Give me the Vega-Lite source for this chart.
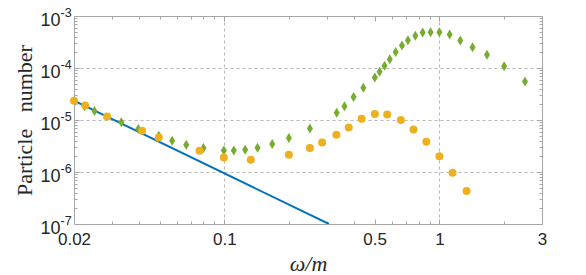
{
  "$schema": "https://vega.github.io/schema/vega-lite/v6.json",
  "width": 468,
  "height": 208,
  "autosize": "none",
  "padding": {"left": 74, "top": 16, "right": 44, "bottom": 51},
  "datasets": {
    "blue": [
      {"w": 0.02, "n": 2.35e-5},
      {"w": 0.3066, "n": 1e-7}
    ],
    "orange": [
      {"w": 0.02, "n": 2.35e-5},
      {"w": 0.02255, "n": 1.89e-5},
      {"w": 0.0285, "n": 1.17e-5},
      {"w": 0.0415, "n": 6.2e-6},
      {"w": 0.0496, "n": 4.6e-6},
      {"w": 0.0767, "n": 2.57e-6},
      {"w": 0.0995, "n": 1.9e-6},
      {"w": 0.1328, "n": 1.72e-6},
      {"w": 0.1996, "n": 2.14e-6},
      {"w": 0.25, "n": 2.9e-6},
      {"w": 0.285, "n": 3.7e-6},
      {"w": 0.332, "n": 5.2e-6},
      {"w": 0.379, "n": 7.2e-6},
      {"w": 0.435, "n": 1.06e-5},
      {"w": 0.501, "n": 1.3e-5},
      {"w": 0.572, "n": 1.27e-5},
      {"w": 0.662, "n": 1.0e-5},
      {"w": 0.758, "n": 6.6e-6},
      {"w": 0.87, "n": 3.8e-6},
      {"w": 1.0, "n": 2.0e-6},
      {"w": 1.152, "n": 9.7e-7},
      {"w": 1.338, "n": 4.3e-7}
    ],
    "green": [
      {"w": 0.02238, "n": 1.83e-5},
      {"w": 0.0249, "n": 1.49e-5},
      {"w": 0.0332, "n": 9.1e-6},
      {"w": 0.0398, "n": 6.7e-6},
      {"w": 0.0496, "n": 5.0e-6},
      {"w": 0.0572, "n": 4.0e-6},
      {"w": 0.0665, "n": 3.34e-6},
      {"w": 0.08, "n": 2.88e-6},
      {"w": 0.0995, "n": 2.6e-6},
      {"w": 0.1107, "n": 2.6e-6},
      {"w": 0.125, "n": 2.68e-6},
      {"w": 0.1427, "n": 2.93e-6},
      {"w": 0.167, "n": 3.44e-6},
      {"w": 0.1996, "n": 4.5e-6},
      {"w": 0.25, "n": 6.9e-6},
      {"w": 0.333, "n": 1.38e-5},
      {"w": 0.362, "n": 1.83e-5},
      {"w": 0.399, "n": 2.77e-5},
      {"w": 0.443, "n": 4.19e-5},
      {"w": 0.501, "n": 6.6e-5},
      {"w": 0.527, "n": 8.5e-5},
      {"w": 0.556, "n": 1.11e-4},
      {"w": 0.588, "n": 1.47e-4},
      {"w": 0.626, "n": 2.04e-4},
      {"w": 0.67, "n": 2.7e-4},
      {"w": 0.714, "n": 3.42e-4},
      {"w": 0.773, "n": 4.15e-4},
      {"w": 0.836, "n": 4.81e-4},
      {"w": 0.91, "n": 4.87e-4},
      {"w": 1.0, "n": 4.87e-4},
      {"w": 1.116, "n": 4.4e-4},
      {"w": 1.25, "n": 3.37e-4},
      {"w": 1.426, "n": 2.5e-4},
      {"w": 1.664, "n": 1.79e-4},
      {"w": 2.0, "n": 1.08e-4},
      {"w": 2.5, "n": 5.47e-5}
    ]
  },
  "layer": [
    {
      "data": {"name": "blue"},
      "mark": {"type": "line", "color": "#0072BD", "strokeWidth": 2, "clip": true},
      "encoding": {
        "x": {
          "field": "w", "type": "quantitative",
          "scale": {"type": "log", "domain": [0.02, 3], "nice": false},
          "axis": {
            "orient": "bottom",
            "values": [0.02, 0.03, 0.04, 0.05, 0.06, 0.07, 0.08, 0.09, 0.1, 0.2, 0.3, 0.4, 0.5, 0.6, 0.7, 0.8, 0.9, 1, 2, 3],
            "labelExpr": "indexof([0.02, 0.1, 0.5, 1, 3], datum.value) >= 0 ? toString(datum.value) : ''",
            "labelOverlap": false,
            "labelFlush": false,
            "labelFontSize": 17,
            "labelPadding": 12,
            "tickSize": {"condition": {"test": "indexof([0.02, 0.1, 0.5, 1, 3], datum.value) >= 0", "value": -5}, "value": -3},
            "grid": true,
            "gridOpacity": {"condition": {"test": "datum.value == 0.1 || datum.value == 1", "value": 1}, "value": 0},
            "title": "ω/m",
            "titleFont": "Liberation Serif",
            "titleFontStyle": "italic",
            "titleFontWeight": "normal",
            "titleFontSize": 22,
            "titlePadding": 4
          }
        },
        "y": {
          "field": "n", "type": "quantitative",
          "scale": {"type": "log", "domain": [1e-7, 1e-3], "nice": false},
          "axis": {
            "orient": "left",
            "values": [1e-7, 2e-7, 3e-7, 4e-7, 5e-7, 6e-7, 7e-7, 8e-7, 9e-7, 1e-6, 2e-6, 3e-6, 4e-6, 5e-6, 6e-6, 7e-6, 8e-6, 9e-6, 1e-5, 2e-5, 3e-5, 4e-5, 5e-5, 6e-5, 7e-5, 8e-5, 9e-5, 1e-4, 2e-4, 3e-4, 4e-4, 5e-4, 6e-4, 7e-4, 8e-4, 9e-4, 1e-3],
            "labelExpr": "indexof([1e-7, 1e-6, 1e-5, 1e-4, 1e-3], datum.value) >= 0 ? '10' : ''",
            "labelOverlap": false,
            "labelFlush": false,
            "labelFontSize": 18,
            "labelPadding": 19,
            "labelOffset": 4,
            "labelBaseline": "middle",
            "tickSize": {"condition": {"test": "indexof([1e-7, 1e-6, 1e-5, 1e-4, 1e-3], datum.value) >= 0", "value": -5}, "value": -3},
            "grid": true,
            "gridOpacity": {"condition": {"test": "indexof([1e-7, 1e-6, 1e-5, 1e-4, 1e-3], datum.value) >= 0", "value": 1}, "value": 0},
            "title": "Particle\u00a0\u00a0\u00a0number",
            "titleFont": "Liberation Serif",
            "titleFontWeight": "normal",
            "titleFontSize": 22,
            "titlePadding": 3
          }
        }
      }
    },
    {
      "data": {"name": "green"},
      "mark": {"type": "point", "shape": "M0,-1L0.6,0L0,1L-0.6,0Z", "filled": true, "color": "#77AC30", "size": 100, "opacity": 1, "clip": false},
      "encoding": {
        "x": {
          "field": "w", "type": "quantitative",
          "scale": {"type": "log", "domain": [0.02, 3], "nice": false},
          "axis": {
            "orient": "top",
            "values": [0.02, 0.03, 0.04, 0.05, 0.06, 0.07, 0.08, 0.09, 0.1, 0.2, 0.3, 0.4, 0.5, 0.6, 0.7, 0.8, 0.9, 1, 2, 3],
            "labels": false,
            "grid": false,
            "tickSize": {"condition": {"test": "indexof([0.02, 0.1, 0.5, 1, 3], datum.value) >= 0", "value": -5}, "value": -3},
            "title": null
          }
        },
        "y": {
          "field": "n", "type": "quantitative",
          "scale": {"type": "log", "domain": [1e-7, 1e-3], "nice": false},
          "axis": {
            "orient": "right",
            "values": [1e-7, 2e-7, 3e-7, 4e-7, 5e-7, 6e-7, 7e-7, 8e-7, 9e-7, 1e-6, 2e-6, 3e-6, 4e-6, 5e-6, 6e-6, 7e-6, 8e-6, 9e-6, 1e-5, 2e-5, 3e-5, 4e-5, 5e-5, 6e-5, 7e-5, 8e-5, 9e-5, 1e-4, 2e-4, 3e-4, 4e-4, 5e-4, 6e-4, 7e-4, 8e-4, 9e-4, 1e-3],
            "labels": false,
            "grid": false,
            "tickSize": {"condition": {"test": "indexof([1e-7, 1e-6, 1e-5, 1e-4, 1e-3], datum.value) >= 0", "value": -5}, "value": -3},
            "title": null
          }
        }
      }
    },
    {
      "data": {"name": "orange"},
      "mark": {"type": "circle", "color": "#EDB120", "size": 64, "opacity": 1, "clip": false},
      "encoding": {
        "x": {
          "field": "w", "type": "quantitative",
          "scale": {"type": "log", "domain": [0.02, 3], "nice": false},
          "axis": null
        },
        "y": {
          "field": "n", "type": "quantitative",
          "scale": {"type": "log", "domain": [1e-7, 1e-3], "nice": false},
          "axis": {
            "orient": "left",
            "values": [1e-7, 1e-6, 1e-5, 1e-4, 1e-3],
            "labelExpr": "'-' + toString(round(-log(datum.value) / LN10))",
            "labelAlign": "left",
            "labelBaseline": "middle",
            "labelFontSize": 12.5,
            "labelPadding": 14,
            "labelOffset": -4,
            "labelOverlap": false,
            "labelFlush": false,
            "ticks": false,
            "domain": false,
            "grid": false,
            "title": null
          }
        }
      }
    }
  ],
  "resolve": {"axis": {"x": "independent", "y": "independent"}},
  "config": {
    "view": {"stroke": null},
    "axis": {
      "labelFont": "Liberation Sans",
      "labelColor": "#262626",
      "titleColor": "#262626",
      "domainColor": "#a6a6a6",
      "tickColor": "#a6a6a6",
      "gridColor": "#b8b8b8",
      "gridDash": [3, 3],
      "gridWidth": 1
    }
  }
}
